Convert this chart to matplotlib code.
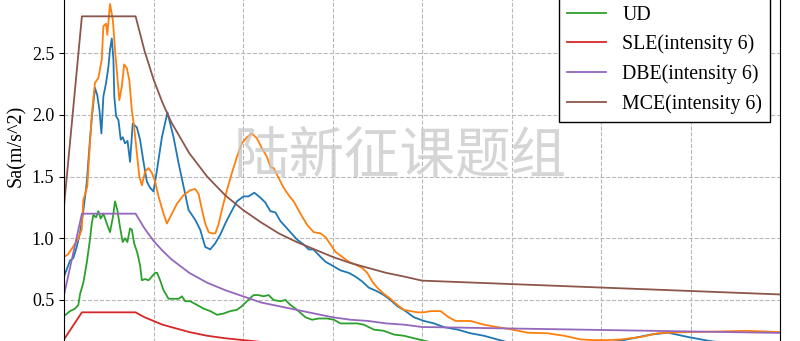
import matplotlib.pyplot as plt

# period axis for the code design spectra (s)
T_code = [0, 0.1, 0.4, 0.45, 0.5, 0.55, 0.6, 0.7, 0.8, 0.9, 1.0, 1.1, 1.2,
          1.3, 1.4, 1.5, 1.6, 1.7, 1.8, 1.9, 2.0, 4.0]
sle = [0.18, 0.40, 0.40, 0.36, 0.33, 0.30, 0.28, 0.24, 0.21, 0.19, 0.175, 0.16,
       0.15, 0.14, 0.13, 0.12, 0.115, 0.11, 0.10, 0.098, 0.094, 0.078]
dbe = [0.54, 1.20, 1.20, 1.08, 0.98, 0.90, 0.83, 0.72, 0.64, 0.58, 0.53, 0.48,
       0.45, 0.42, 0.39, 0.36, 0.34, 0.33, 0.31, 0.30, 0.281, 0.233]
mce = [1.26, 2.80, 2.80, 2.52, 2.29, 2.10, 1.94, 1.69, 1.50, 1.35, 1.23, 1.13,
       1.04, 0.97, 0.91, 0.85, 0.80, 0.76, 0.72, 0.69, 0.657, 0.545]

# record spectra
T_ew = [0, 0.034, 0.052, 0.071, 0.090, 0.106, 0.127, 0.145, 0.157, 0.173, 0.186,
        0.198, 0.209, 0.220, 0.235, 0.248, 0.257, 0.267, 0.276, 0.281, 0.291,
        0.304, 0.317, 0.328, 0.341, 0.355, 0.369, 0.384, 0.407, 0.425, 0.444,
        0.463, 0.481, 0.500, 0.519, 0.547, 0.578, 0.612, 0.640, 0.668, 0.696,
        0.733, 0.761, 0.789, 0.817, 0.845, 0.873, 0.901, 0.929, 0.966, 1.003,
        1.031, 1.063, 1.097, 1.125, 1.153, 1.181, 1.209, 1.246, 1.283, 1.302,
        1.339, 1.367, 1.393, 1.433, 1.461, 1.498, 1.545, 1.591, 1.628, 1.666,
        1.703, 1.750, 1.787, 1.824, 1.862, 1.908, 1.955, 2.011, 2.067, 2.123,
        2.198, 2.272, 2.346, 2.421, 2.496, 2.664, 2.888, 3.111, 3.279, 3.374,
        3.486, 3.598, 3.783, 4.0]
ew = [0.69, 0.82, 0.84, 0.93, 1.05, 1.20, 1.45, 1.80, 2.00, 2.22, 2.16,
      2.04, 1.85, 2.15, 2.26, 2.39, 2.53, 2.62, 2.45, 2.15, 1.99,
      1.96, 1.80, 1.82, 1.77, 1.79, 1.62, 1.93, 1.90, 1.80, 1.62,
      1.46, 1.41, 1.38, 1.55, 1.82, 2.02, 1.82, 1.61, 1.42, 1.23,
      1.15, 1.07, 0.93, 0.91, 0.96, 1.03, 1.12, 1.20, 1.30, 1.34,
      1.34, 1.37, 1.33, 1.29, 1.22, 1.21, 1.14, 1.08, 1.02, 0.99,
      0.95, 0.91, 0.91, 0.85, 0.81, 0.78, 0.74, 0.72, 0.69, 0.65,
      0.60, 0.57, 0.54, 0.50, 0.45, 0.41, 0.36, 0.33, 0.31, 0.28,
      0.26, 0.23, 0.21, 0.18, 0.15, 0.12, 0.13, 0.17, 0.22, 0.235,
      0.20, 0.17, 0.13, 0.12]

T_ns = [0, 0.022, 0.050, 0.077, 0.099, 0.108, 0.130, 0.155, 0.173, 0.192, 0.211,
        0.220, 0.235, 0.242, 0.257, 0.273, 0.285, 0.298, 0.309, 0.323, 0.336,
        0.351, 0.365, 0.379, 0.392, 0.407, 0.421, 0.435, 0.453, 0.472, 0.491,
        0.509, 0.528, 0.556, 0.575, 0.603, 0.631, 0.668, 0.705, 0.733, 0.752,
        0.771, 0.789, 0.808, 0.827, 0.845, 0.863, 0.882, 0.910, 0.938, 0.966,
        0.994, 1.022, 1.050, 1.078, 1.106, 1.134, 1.153, 1.171, 1.199, 1.227,
        1.255, 1.283, 1.321, 1.358, 1.395, 1.433, 1.461, 1.489, 1.517, 1.554,
        1.591, 1.638, 1.666, 1.694, 1.722, 1.750, 1.787, 1.824, 1.862, 1.899,
        1.936, 1.974, 2.011, 2.048, 2.104, 2.149, 2.188, 2.272, 2.346, 2.421,
        2.505, 2.589, 2.701, 2.794, 2.888, 2.962, 3.037, 3.111, 3.223, 3.317,
        3.374, 3.503, 3.671, 3.811, 4.0]
ns = [0.85, 0.87, 0.93, 0.99, 1.07, 1.31, 1.42, 2.00, 2.26, 2.30, 2.45,
      2.72, 2.74, 2.65, 2.90, 2.77, 2.53, 2.31, 2.12, 2.23, 2.41,
      2.38, 2.28, 2.04, 1.90, 1.69, 1.50, 1.43, 1.54, 1.57, 1.53,
      1.46, 1.34, 1.20, 1.12, 1.20, 1.28, 1.35, 1.39, 1.40, 1.36,
      1.23, 1.12, 1.05, 1.04, 1.04, 1.11, 1.23, 1.39, 1.53, 1.66,
      1.77, 1.82, 1.85, 1.81, 1.73, 1.66, 1.58, 1.57, 1.49, 1.41,
      1.35, 1.30, 1.20, 1.11, 1.05, 1.04, 1.01, 0.95, 0.89, 0.85,
      0.81, 0.78, 0.76, 0.72, 0.65, 0.60, 0.55, 0.51, 0.46, 0.42,
      0.41, 0.40, 0.40, 0.41, 0.41, 0.36, 0.33, 0.33, 0.30, 0.28,
      0.26, 0.235, 0.23, 0.21, 0.18, 0.175, 0.175, 0.18, 0.20, 0.23,
      0.235, 0.24, 0.245, 0.25, 0.24]

T_ud = [0, 0.034, 0.062, 0.080, 0.090, 0.108, 0.127, 0.145, 0.155, 0.164, 0.179,
        0.192, 0.205, 0.220, 0.239, 0.257, 0.273, 0.285, 0.298, 0.313, 0.328,
        0.341, 0.354, 0.369, 0.379, 0.392, 0.410, 0.425, 0.435, 0.453, 0.472,
        0.491, 0.509, 0.520, 0.537, 0.556, 0.584, 0.612, 0.640, 0.659, 0.677,
        0.705, 0.743, 0.780, 0.817, 0.855, 0.891, 0.929, 0.966, 0.994, 1.022,
        1.059, 1.086, 1.115, 1.143, 1.171, 1.209, 1.237, 1.265, 1.302, 1.349,
        1.386, 1.423, 1.470, 1.507, 1.545, 1.591, 1.638, 1.675, 1.731, 1.787,
        1.843, 1.899, 1.955, 2.011, 2.104, 2.328, 2.664, 3.111, 3.559, 4.0]
ud = [0.37, 0.41, 0.43, 0.46, 0.55, 0.64, 0.80, 0.99, 1.12, 1.19, 1.17,
      1.22, 1.16, 1.20, 1.12, 1.05, 1.17, 1.30, 1.23, 1.09, 0.97,
      1.00, 0.97, 1.08, 1.07, 0.96, 0.88, 0.78, 0.66, 0.67, 0.66,
      0.69, 0.72, 0.72, 0.66, 0.58, 0.51, 0.51, 0.51, 0.53, 0.49,
      0.49, 0.46, 0.43, 0.41, 0.38, 0.39, 0.41, 0.42, 0.45, 0.49,
      0.54, 0.54, 0.53, 0.54, 0.50, 0.49, 0.50, 0.46, 0.42, 0.36,
      0.34, 0.35, 0.35, 0.34, 0.31, 0.31, 0.31, 0.30, 0.26, 0.25,
      0.22, 0.21, 0.19, 0.17, 0.14, 0.11, 0.10, 0.12, 0.13, 0.11]

y_ticks = [0.5, 1.0, 1.5, 2.0, 2.5]

plt.rcParams['font.family'] = 'Liberation Serif'

fig = plt.figure(figsize=(8, 3.41), dpi=100)
# the visible picture is a crop of a taller axes
ax = fig.add_axes([0.08, -0.0606, 0.895, 1.2659])

lw = 1.3
ax.plot(T_ew, ew, color='#1f77b4', lw=lw, label='EW')
ax.plot(T_ns, ns, color='#ff7f0e', lw=lw, label='NS')
ax.plot(T_ud, ud, color='#2ca02c', lw=lw, label='UD')
ax.plot(T_code, sle, color='#d62728', lw=lw, label='SLE(intensity 6)')
ax.plot(T_code, dbe, color='#9467bd', lw=lw, label='DBE(intensity 6)')
ax.plot(T_code, mce, color='#8c564b', lw=lw, label='MCE(intensity 6)')

ax.set_xlim(0, 4)
ax.set_ylim(0, 3.5)
ax.set_yticks(y_ticks)
ax.set_ylabel('Sa(m/s^2)', fontsize=14.5)
ax.tick_params(labelsize=13)
# x tick labels fall below the cropped picture
ax.tick_params(axis='x', labelbottom=False)
ax.grid(True, linestyle='--', color='#b8b8b8', linewidth=0.8)

leg = ax.legend(loc='upper right', fontsize=14.3, fancybox=False,
                edgecolor='black', framealpha=1)
leg.get_frame().set_linewidth(1.0)

fig.text(0.5, 1 - 157 / 341, '陆新征课题组', fontsize=40, color='#c8c8c8',
         ha='center', va='center', family=['Noto Sans CJK SC'],
         fontweight='light', alpha=0.75, zorder=10)

fig.savefig('out.png', dpi=100)
